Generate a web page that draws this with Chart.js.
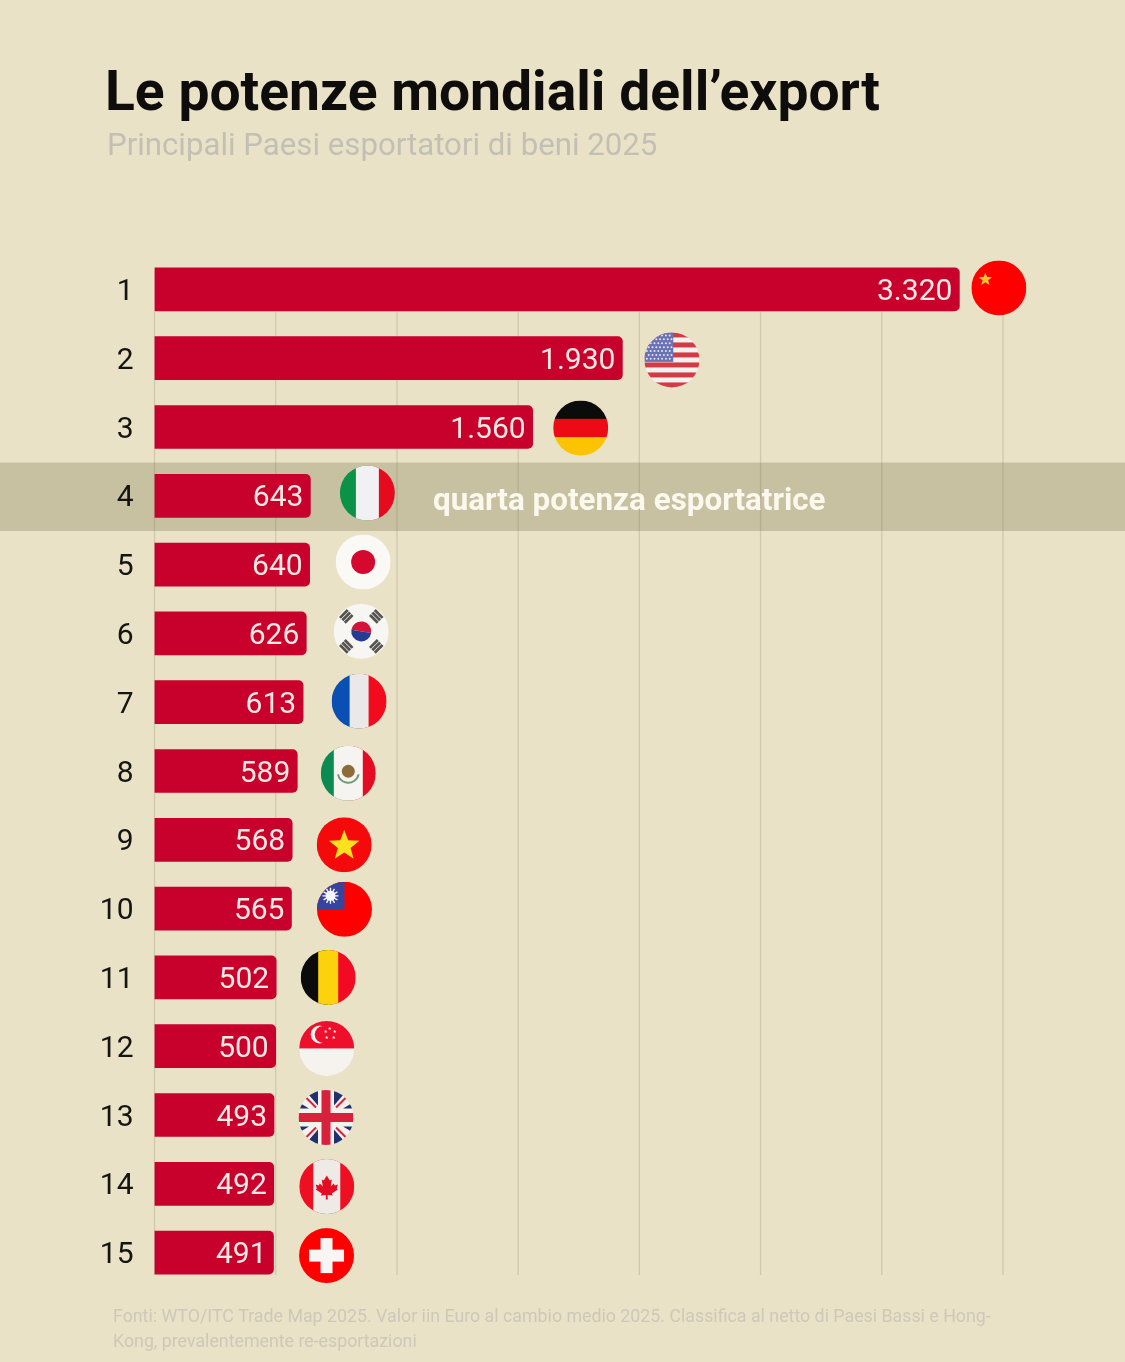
<!DOCTYPE html>
<html>
<head>
    <title>Le potenze mondiali dell'export</title>
    <script src="https://cdn.jsdelivr.net/npm/chart.js"></script>
    <style>
        html, body { margin: 0; padding: 0; background: #eae2c6; }
        canvas { display: block; }
    </style>
</head>
<body>
    <canvas id="mainChart" width="1125" height="1362"></canvas>
    <script>
        const ranks = ['1', '2', '3', '4', '5', '6', '7', '8', '9', '10', '11', '12', '13', '14', '15'];
        const exportValues = [3320, 1930, 1560, 643, 640, 626, 613, 589, 568, 565, 502, 500, 493, 492, 491];
        const countries = ['cn', 'us', 'de', 'it', 'jp', 'kr', 'fr', 'mx', 'vn', 'tw', 'be', 'sg', 'gb', 'ca', 'ch'];
        const titleText = 'Le potenze mondiali dell’export';
        const subtitleText = 'Principali Paesi esportatori di beni 2025';
        const bandText = 'quarta potenza esportatrice';
        const footerLines = [
            'Fonti: WTO/ITC Trade Map 2025. Valor iin Euro al cambio medio 2025. Classifica al netto di Paesi Bassi e Hong-',
            'Kong, prevalentemente re-esportazioni'
        ];

        // scostamento delle bandiere rispetto alla fine della barra
        const flagGap = [39.5, 49.5, 48, 57, 53.5, 55, 56, 51, 52, 53, 52, 51, 52, 53, 53];
        const flagLift = [-1.5, 1.75, 1, -2.75, -2.5, -2, -1, 2.25, 5, 0.75, 0, 2.25, 2.5, 2.75, 3];
        const FLAG_R = 27.5;

        const RED = '#ff0000';
        const FONT = 'Roboto, sans-serif';

        function star(ctx, cx, cy, r, color) {
            ctx.beginPath();
            for (let i = 0; i < 10; i++) {
                const rad = i % 2 ? r * 0.42 : r;
                const a = -Math.PI / 2 + i * Math.PI / 5;
                ctx.lineTo(cx + rad * Math.cos(a), cy + rad * Math.sin(a));
            }
            ctx.closePath();
            ctx.fillStyle = color;
            ctx.fill();
        }

        // tre bande verticali, half = mezza larghezza di quella centrale
        function vStripes(ctx, r, colors, half) {
            ctx.fillStyle = colors[0];
            ctx.fillRect(-r, -r, r, 2 * r);
            ctx.fillStyle = colors[2];
            ctx.fillRect(0, -r, r, 2 * r);
            ctx.fillStyle = colors[1];
            ctx.fillRect(-half, -r, 2 * half, 2 * r);
        }

        function hStripes(ctx, r, colors) {
            const h = 2 * r / colors.length;
            colors.forEach((c, i) => {
                ctx.fillStyle = c;
                ctx.fillRect(-r, -r + i * h, 2 * r, h + 0.5);
            });
        }

        function line(ctx, x1, y1, x2, y2, color, width) {
            ctx.strokeStyle = color;
            ctx.lineWidth = width;
            ctx.beginPath();
            ctx.moveTo(x1, y1);
            ctx.lineTo(x2, y2);
            ctx.stroke();
        }

        // le bandiere sono disegnate attorno a (0,0)
        const flags = {
            cn(ctx, r) {
                ctx.fillStyle = RED;
                ctx.fillRect(-r, -r, 2 * r, 2 * r);
                star(ctx, -13.5, -8.5, 7, '#f7c62f');
            },
            us(ctx, r) {
                const names = [];
                for (let i = 0; i < 11; i++) names.push(i % 2 ? '#f4f1ee' : '#d23a46');
                hStripes(ctx, r, names);
                ctx.fillStyle = '#6a72b4';
                ctx.fillRect(-r, -r, r * 1.05, r * 1.07);
                ctx.fillStyle = '#e6e6f2';
                for (let row = 0; row < 7; row++) {
                    for (let col = 0; col < 7; col++) {
                        ctx.beginPath();
                        ctx.arc(-r + 2.5 + col * 3.8 + (row % 2) * 1.8, -r + 3 + row * 3.9, 1, 0, 2 * Math.PI);
                        ctx.fill();
                    }
                }
            },
            de(ctx, r) { hStripes(ctx, r, ['#0b0b0b', '#ee0a14', '#fcc400']); },
            it(ctx, r) { vStripes(ctx, r, ['#0a9248', '#f1f0f2', '#e60a1e'], 11.5); },
            jp(ctx, r) {
                ctx.fillStyle = '#fbf9f6';
                ctx.fillRect(-r, -r, 2 * r, 2 * r);
                ctx.fillStyle = '#d5092f';
                ctx.beginPath();
                ctx.arc(0, 0, 12, 0, 2 * Math.PI);
                ctx.fill();
            },
            kr(ctx, r) {
                ctx.fillStyle = '#f8f6f3';
                ctx.fillRect(-r, -r, 2 * r, 2 * r);
                ctx.fillStyle = '#d3153a';
                ctx.beginPath();
                ctx.arc(0, 0, 10, Math.PI * 1.05, Math.PI * 0.05);
                ctx.fill();
                ctx.fillStyle = '#263c92';
                ctx.beginPath();
                ctx.arc(0, 0, 10, Math.PI * 0.05, Math.PI * 1.05);
                ctx.fill();
                [[-15, -15, -1], [15, -15, 1], [-15, 15, 1], [15, 15, -1]].forEach(([x, y, s]) => {
                    ctx.save();
                    ctx.translate(x, y);
                    ctx.rotate(s * Math.PI / 4);
                    ctx.fillStyle = '#555550';
                    [-3.4, 0, 3.4].forEach(d => ctx.fillRect(-5.5, d - 1.4, 11, 2.8));
                    ctx.restore();
                });
            },
            fr(ctx, r) { vStripes(ctx, r, ['#0a50b4', '#eae8e8', '#f30a1c'], 9.5); },
            mx(ctx, r) {
                vStripes(ctx, r, ['#0b8a52', '#f6f4f0', '#e40c22'], 14.5);
                ctx.fillStyle = '#8f6b3a';
                ctx.beginPath();
                ctx.arc(0, -2, 6.5, 0, 2 * Math.PI);
                ctx.fill();
                ctx.strokeStyle = '#6f9a70';
                ctx.lineWidth = 2;
                ctx.beginPath();
                ctx.arc(0, -1, 10.5, 0.2, Math.PI - 0.2);
                ctx.stroke();
            },
            vn(ctx, r) {
                ctx.fillStyle = '#f40a0a';
                ctx.fillRect(-r, -r, 2 * r, 2 * r);
                star(ctx, 0, 1, 16, '#ffe01f');
            },
            tw(ctx, r) {
                ctx.fillStyle = RED;
                ctx.fillRect(-r, -r, 2 * r, 2 * r);
                ctx.fillStyle = '#36449b';
                ctx.fillRect(-r, -r, r, r);
                ctx.strokeStyle = '#f7f7fb';
                ctx.lineWidth = 1.4;
                for (let i = 0; i < 12; i++) {
                    const a = i * Math.PI / 6;
                    ctx.beginPath();
                    ctx.moveTo(-14, -13.5);
                    ctx.lineTo(-14 + 8 * Math.cos(a), -13.5 + 8 * Math.sin(a));
                    ctx.stroke();
                }
                ctx.fillStyle = '#f7f7fb';
                ctx.beginPath();
                ctx.arc(-14, -13.5, 5, 0, 2 * Math.PI);
                ctx.fill();
            },
            be(ctx, r) { vStripes(ctx, r, ['#0b0b0b', '#fbd20c', '#f20a22'], 10); },
            sg(ctx, r) {
                hStripes(ctx, r, ['#ee0f2d', '#f6f3ef']);
                ctx.fillStyle = '#f6f3ef';
                ctx.beginPath();
                ctx.arc(-7, -14, 9, 0, 2 * Math.PI);
                ctx.fill();
                ctx.fillStyle = '#ee0f2d';
                ctx.beginPath();
                ctx.arc(-3.5, -14, 8.5, 0, 2 * Math.PI);
                ctx.fill();
                [[3, -20], [8, -17], [7, -11], [0, -11], [-1, -17]].forEach(([x, y]) => star(ctx, x, y, 1.8, '#f6f3ef'));
            },
            gb(ctx, r) {
                ctx.fillStyle = '#f5f2ee';
                ctx.fillRect(-r, -r, 2 * r, 2 * r);
                ctx.fillStyle = '#20316f';
                [[1, 1], [-1, 1], [1, -1], [-1, -1]].forEach(([sx, sy]) => {
                    ctx.beginPath();
                    ctx.moveTo(sx * 8, sy * 27);
                    ctx.lineTo(sx * 8, sy * 12);
                    ctx.lineTo(sx * 21, sy * 27);
                    ctx.closePath();
                    ctx.fill();
                    ctx.beginPath();
                    ctx.moveTo(sx * 27, sy * 9);
                    ctx.lineTo(sx * 17, sy * 9);
                    ctx.lineTo(sx * 27, sy * 15);
                    ctx.closePath();
                    ctx.fill();
                });
                line(ctx, -r, -r, -10, -10, '#d2233f', 2);
                line(ctx, r, r, 10, 10, '#d2233f', 2);
                line(ctx, -r, r, -10, 10, '#d2233f', 2);
                line(ctx, r, -r, 10, -10, '#d2233f', 2);
                ctx.fillStyle = '#d8213c';
                ctx.fillRect(-r, -4.5, 2 * r, 9);
                ctx.fillRect(-4.5, -r, 9, 2 * r);
            },
            ca(ctx, r) {
                vStripes(ctx, r, ['#ee0f22', '#eeeae6', '#ee0f22'], 13.5);
                const leaf = [[0, -11], [3, -6], [5, -7], [4, 0], [7, -3], [8, -1], [11, -2], [10, 2], [11, 3], [5, 7], [6, 9], [0.8, 8.5], [1, 13], [-1, 13], [-0.8, 8.5], [-6, 9], [-5, 7], [-11, 3], [-10, 2], [-11, -2], [-8, -1], [-7, -3], [-4, 0], [-5, -7], [-3, -6]];
                ctx.fillStyle = '#e30c22';
                ctx.beginPath();
                leaf.forEach(([x, y]) => ctx.lineTo(x, y));
                ctx.closePath();
                ctx.fill();
            },
            ch(ctx, r) {
                ctx.fillStyle = RED;
                ctx.fillRect(-r, -r, 2 * r, 2 * r);
                ctx.fillStyle = '#f8f6f4';
                ctx.fillRect(-17.5, -6, 35, 12);
                ctx.fillRect(-6, -17.5, 12, 35);
            }
        };

        const decorPlugin = {
            id: 'decor',
            beforeDraw(chart) {
                const { ctx, width } = chart;
                ctx.save();
                ctx.fillStyle = '#eae2c6';
                ctx.fillRect(0, 0, width, chart.height);
                // fascia dell'Italia
                ctx.fillStyle = '#c7c1a1';
                ctx.fillRect(0, 462.5, width, 68.5);
                ctx.textBaseline = 'alphabetic';
                ctx.textAlign = 'left';
                ctx.fillStyle = '#0f0d0c';
                ctx.font = `700 55.2px ${FONT}`;
                ctx.fillText(titleText, 105, 109.5);
                ctx.fillStyle = '#c2c0b5';
                ctx.font = `400 31.2px ${FONT}`;
                ctx.fillText(subtitleText, 107, 155);
                ctx.fillStyle = '#cdc8b9';
                ctx.font = `400 17.8px ${FONT}`;
                footerLines.forEach((t, i) => ctx.fillText(t, 113, 1322 + i * 25));
                ctx.restore();
            },
            beforeDatasetsDraw(chart) {
                const { ctx, scales: { x } } = chart;
                ctx.save();
                ctx.strokeStyle = 'rgba(110, 100, 70, 0.2)';
                ctx.lineWidth = 1.3;
                x.ticks.forEach(t => {
                    const px = x.getPixelForValue(t.value);
                    ctx.beginPath();
                    ctx.moveTo(px, 312);
                    ctx.lineTo(px, 1275);
                    ctx.stroke();
                });
                ctx.restore();
            },
            afterDatasetsDraw(chart) {
                const { ctx } = chart;
                const bars = chart.getDatasetMeta(0).data;
                ctx.save();
                ctx.textBaseline = 'middle';
                bars.forEach((bar, i) => {
                    ctx.fillStyle = '#fbe9e4';
                    ctx.font = `400 30px ${FONT}`;
                    ctx.textAlign = 'right';
                    const label = String(exportValues[i]).replace(/\B(?=(\d{3})$)/, '.');
                    ctx.fillText(label, bar.x - 7, bar.y + 3);

                    ctx.save();
                    ctx.translate(bar.x + flagGap[i], bar.y + flagLift[i]);
                    ctx.beginPath();
                    ctx.arc(0, 0, FLAG_R, 0, 2 * Math.PI);
                    ctx.clip();
                    flags[countries[i]](ctx, FLAG_R);
                    ctx.restore();
                });
                ctx.fillStyle = '#fbf8ee';
                ctx.font = `700 31.4px ${FONT}`;
                ctx.textAlign = 'left';
                ctx.fillText(bandText, 433, 502);
                ctx.restore();
            }
        };

        new Chart(document.getElementById('mainChart'), {
            type: 'bar',
            data: {
                labels: ranks,
                datasets: [{
                    data: exportValues,
                    backgroundColor: '#c8002c',
                    borderWidth: 0,
                    borderRadius: { topLeft: 0, bottomLeft: 0, topRight: 5, bottomRight: 5 },
                    borderSkipped: false,
                    barThickness: 43
                }]
            },
            options: {
                indexAxis: 'y',
                responsive: false,
                animation: false,
                layout: { padding: { left: 0, right: 122, top: 255, bottom: 75 } },
                plugins: {
                    legend: { display: false },
                    title: { display: false },
                    tooltip: { enabled: false }
                },
                scales: {
                    x: {
                        min: 0,
                        max: 3500,
                        afterFit(scale) { scale.height = 0; },
                        ticks: { display: false, stepSize: 500 },
                        grid: { display: false, drawTicks: false },
                        border: { display: false }
                    },
                    y: {
                        afterFit(scale) { scale.width = 154.5; },
                        grid: { display: false },
                        border: { display: false },
                        ticks: {
                            color: '#141412',
                            padding: 13,
                            labelOffset: 3,
                            font: { family: 'Roboto', size: 30, weight: '400' }
                        }
                    }
                }
            },
            plugins: [decorPlugin]
        });
    </script>
</body>
</html>
